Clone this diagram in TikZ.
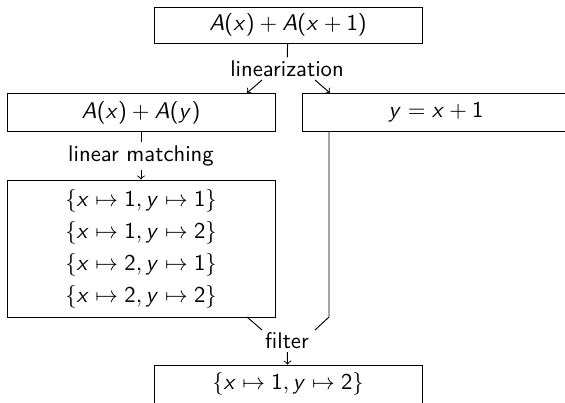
\RequirePackage{fix-cm}
\documentclass[tikz,border=0pt]{standalone}
\DeclareSymbolFont{sfit}{OT1}{cmss}{m}{sl}
\DeclareSymbolFont{sfup}{OT1}{cmss}{m}{n}
\DeclareMathSymbol{A}{\mathalpha}{sfit}{`A}
\DeclareMathSymbol{x}{\mathalpha}{sfit}{`x}
\DeclareMathSymbol{y}{\mathalpha}{sfit}{`y}
\DeclareMathSymbol{1}{\mathalpha}{sfup}{`1}
\DeclareMathSymbol{2}{\mathalpha}{sfup}{`2}
\DeclareMathSymbol{(}{\mathopen}{sfup}{`(}
\DeclareMathSymbol{)}{\mathclose}{sfup}{`)}
\begin{document}
\begin{tikzpicture}[x=0.472pt,y=-0.472pt,
  font=\fontsize{10.7}{12}\selectfont\sffamily,
  box/.style={draw, minimum width=126.5pt, inner sep=0pt},
  lbl/.style={inner sep=1.5pt},
  conn/.style={draw, line width=0.45pt},
  arr/.style={conn, ->}]
\useasboundingbox (0,0) rectangle (565,402);
% boxes
\node[box, minimum height=17pt] (top) at (288,25) {$A(x)+A(x+1)$};
\node[box, minimum height=18.2pt] (axy) at (141,112.5) {$A(x)+A(y)$};
\node[box, minimum height=17.9pt] (eq) at (436,112) {$y=x+1$};
\node[box, minimum height=64.7pt, align=center] (list) at (141,248.5)
  {$\{x\mapsto 1, y\mapsto 1\}$\\[3.1pt]
   $\{x\mapsto 1, y\mapsto 2\}$\\[3.1pt]
   $\{x\mapsto 2, y\mapsto 1\}$\\[3.1pt]
   $\{x\mapsto 2, y\mapsto 2\}$};
\node[box, minimum height=17.9pt] (res) at (288,384) {$\{x\mapsto 1, y\mapsto 2\}$};
% labels
\node[lbl] (lin) at (287,69) {linearization};
\node[lbl] (lm) at (141,156) {linear matching};
\node[lbl] (filt) at (287,340.5) {filter};
% helper coordinates
\coordinate (linL) at (262,80);
\coordinate (linR) at (315,80);
\coordinate (axyIn) at (247,93);
\coordinate (eqIn) at (330,93);
\coordinate (listOut) at (247,317);
\coordinate (eqOut) at (329,131);
\coordinate (eqBend) at (329,317);
\coordinate (filtL) at (262,330);
\coordinate (filtR) at (315,330);
% connectors
\draw[conn] (top) -- (lin);
\draw[arr] (linL) -- (axyIn);
\draw[arr] (linR) -- (eqIn);
\draw[conn] (axy) -- (lm);
\draw[arr] (lm) -- (list);
\draw[conn] (listOut) -- (filtL);
\draw[conn] (eqOut) -- (eqBend) -- (filtR);
\draw[arr] (filt) -- (res);
\end{tikzpicture}
\end{document}
